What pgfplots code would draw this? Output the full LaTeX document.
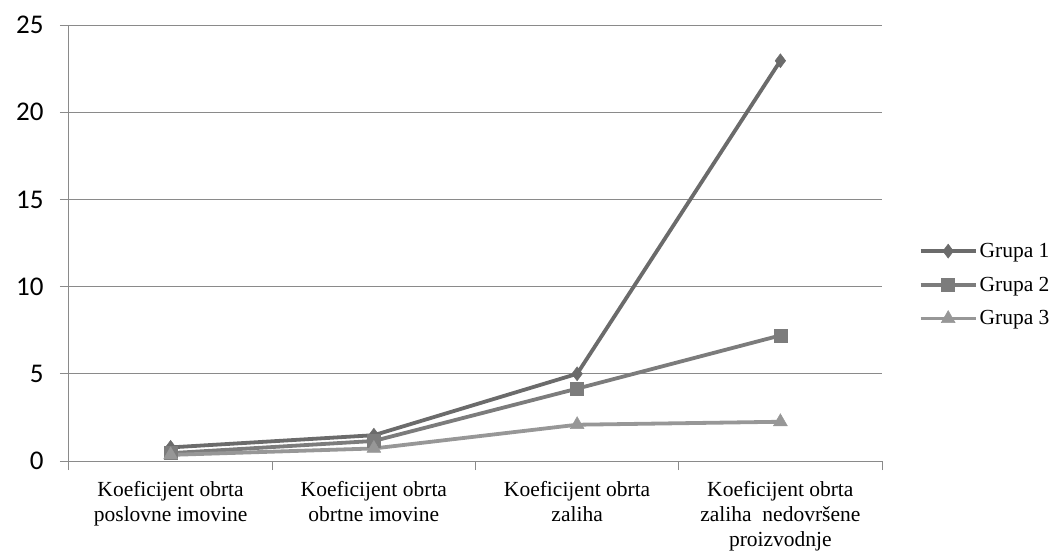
\documentclass[border=0pt]{standalone}
\usepackage{fontspec}
\setmainfont{Liberation Serif}
\newfontfamily\tickfont{Carlito}
\usepackage{pgfplots}
\pgfplotsset{compat=1.18}

\definecolor{gone}{HTML}{6B6B6B}
\definecolor{gtwo}{HTML}{7C7C7C}
\definecolor{gthree}{HTML}{979797}
\definecolor{axgray}{HTML}{8A8A8A}

\begin{document}
\begin{tikzpicture}[x=1pt,y=1pt]
\begin{axis}[
  at={(0,0)}, anchor=south west,
  scale only axis,
  width=813pt, height=436pt,
  xmin=-0.5, xmax=3.5,
  ymin=0, ymax=25,
  axis x line*=bottom, axis y line*=left,
  axis line style={axgray, line width=1pt},
  xtick={0,1,2,3},
  xticklabels={Koeficijent obrta\\poslovne imovine,
               Koeficijent obrta\\obrtne imovine,
               Koeficijent obrta\\zaliha,
               Koeficijent obrta\\zaliha\ \ nedovršene\\proizvodnje},
  major x tick style={draw=none},
  minor xtick={-0.5,0.5,1.5,2.5,3.5},
  minor tick length=9pt,
  minor x tick style={axgray, line width=1pt},
  xticklabel style={align=center, font=\fontsize{21.5}{25}\selectfont, yshift=-8pt},
  ytick={0,5,...,25},
  major tick length=9pt,
  tick align=outside,
  ytick style={axgray, line width=1pt},
  /pgf/number format/assume math mode=true,
  yticklabel style={font=\tickfont\fontsize{27}{30}\selectfont, xshift=-13pt},
  ymajorgrids,
  grid style={axgray, line width=1pt},
  legend style={draw=none, fill=none, at={(1.045,0.404)}, anchor=west,
    font=\fontsize{21.5}{24}\selectfont, row sep=14pt, inner xsep=0pt,
    /tikz/every even column/.append style={column sep=2pt}},
  legend cell align=left,
  legend image code/.code={
    \draw[#1, mark=none] (0pt,0pt) -- (55pt,0pt);
    \draw[#1, only marks] plot coordinates {(27.5pt,0pt)};
  },
  every axis plot/.append style={line width=3.8pt},
]
\addplot[gone, mark=diamond*, mark size=7pt, mark options={solid, line width=0.5pt}]
  coordinates {(0,0.78) (1,1.48) (2,5.0) (3,22.95)};
\addlegendentry{Grupa 1}
\addplot[gtwo, mark=square*, mark size=6.5pt, mark options={solid, line width=0.5pt}]
  coordinates {(0,0.45) (1,1.15) (2,4.15) (3,7.2)};
\addlegendentry{Grupa 2}
\addplot[gthree, mark=triangle*, mark size=8pt, mark options={solid, line width=0.5pt}]
  coordinates {(0,0.35) (1,0.72) (2,2.08) (3,2.25)};
\addlegendentry{Grupa 3}
\end{axis}
\pgfresetboundingbox
\path (-69pt,-89pt) rectangle (990pt,461pt);
\end{tikzpicture}
\end{document}
